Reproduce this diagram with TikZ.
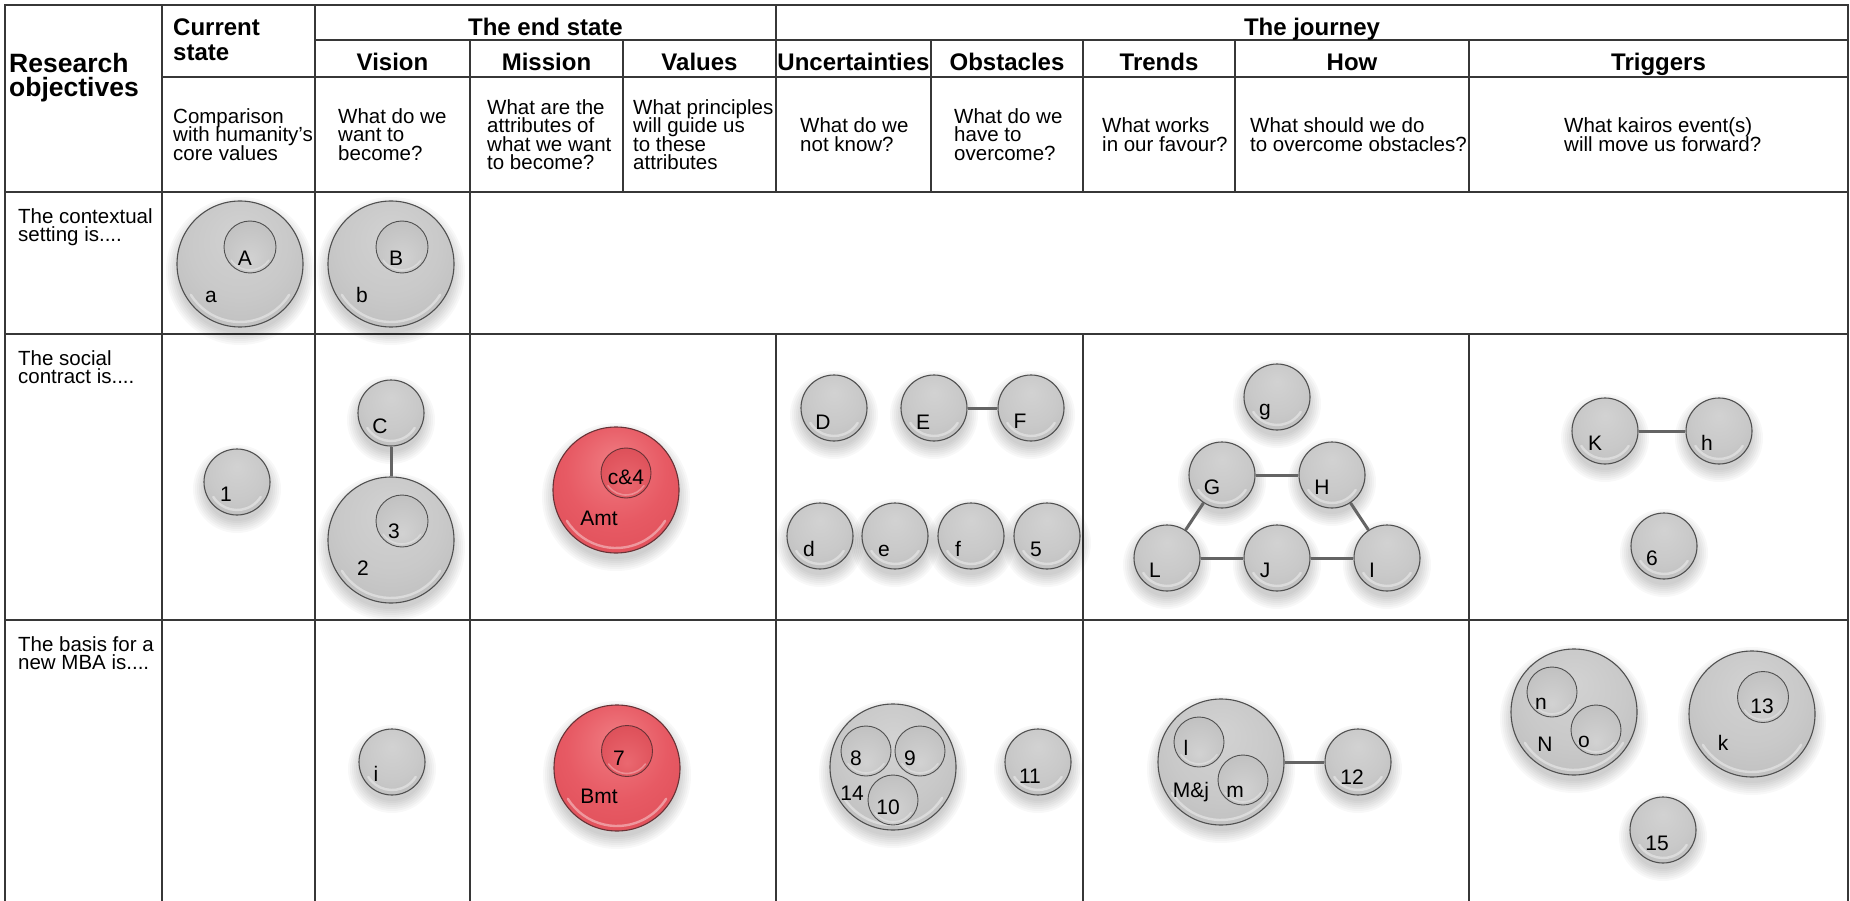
\documentclass[tikz,border=0pt]{standalone}
\usepackage{fontspec}
\setmainfont{Liberation Sans}
\usetikzlibrary{calc}

% palette
\definecolor{gridline}{RGB}{55,55,55}
\definecolor{linkline}{RGB}{100,100,100}
\definecolor{ballrim}{RGB}{80,80,80}
\definecolor{redrim}{RGB}{105,50,54}
\definecolor{gA}{RGB}{210,210,210}
\definecolor{gB}{RGB}{201,201,201}
\definecolor{gC}{RGB}{187,187,187}
\definecolor{gD}{RGB}{164,164,164}
\definecolor{iA}{RGB}{210,210,210}
\definecolor{iB}{RGB}{196,196,196}
\definecolor{iC}{RGB}{180,180,180}
\definecolor{rA}{RGB}{240,124,130}
\definecolor{rB}{RGB}{231,90,100}
\definecolor{rC}{RGB}{222,76,86}
\definecolor{rD}{RGB}{196,58,68}
\definecolor{riA}{RGB}{234,104,112}
\definecolor{riB}{RGB}{224,84,93}
\definecolor{riC}{RGB}{206,68,78}

% glossy fills for the discs
\pgfdeclareradialshading{glossgray}{\pgfpoint{0bp}{12bp}}{color(0bp)=(gA); color(20bp)=(gB); color(38bp)=(gC); color(50bp)=(gD)}
\pgfdeclareradialshading{glossred}{\pgfpoint{0bp}{12bp}}{color(0bp)=(rA); color(20bp)=(rB); color(38bp)=(rC); color(50bp)=(rD)}
\pgfdeclareradialshading{innergray}{\pgfpoint{0bp}{-12bp}}{color(0bp)=(iA); color(25bp)=(iB); color(50bp)=(iC)}
\pgfdeclareradialshading{innerred}{\pgfpoint{0bp}{-12bp}}{color(0bp)=(riA); color(25bp)=(riB); color(50bp)=(riC)}

% tight leading for stacked lines of text
\newcommand\tightlines{\lineskiplimit -100pt\relax}

\tikzset{
  tableline/.style={draw=gridline, line width=1.8pt, line cap=rect},
  ballbase/.style={circle, inner sep=0pt, line width=1.1pt},
  grayball/.style={ballbase, draw=ballrim, shading=glossgray},
  redball/.style={ballbase, draw=redrim, shading=glossred},
  grayinner/.style={ballbase, draw=ballrim, line width=0.9pt, shading=innergray},
  redinner/.style={ballbase, draw=redrim, line width=0.9pt, shading=innerred},
  link/.style={draw=linkline, line width=3pt},
  balltext/.style={font={\fontsize{21}{21}\selectfont}, inner sep=0pt, text height=15pt, text depth=0pt},
  headtext/.style={font={\bfseries\fontsize{24}{25}\selectfont\tightlines}, inner sep=0pt},
  asktext/.style={font={\fontsize{20.5}{18.5}\selectfont\tightlines}, inner sep=0pt, align=left, anchor=north west},
  rowtext/.style={font={\fontsize{20.5}{18.5}\selectfont\tightlines}, inner sep=0pt, align=left, anchor=north west},
}

% soft shadow under a disc: x, y, radius
\newcommand\castshadow[3]{%
  \foreach \k in {1,...,7}{\fill[black,opacity=0.026] (#1,#2+7) circle[radius={(#3+13-2*\k)*1pt}];}}
% a glossy disc with its shadow: [style]{name}{x}{y}{radius}
\newcommand\bubble[5][grayball]{%
  \castshadow{#3}{#4}{#5}
  \node[#1, minimum size={2*#5pt}] (#2) at (#3,#4) {};
  \draw[white, opacity=0.4, line width=2.4pt, line cap=round]
    (#2.center) ++(212:{(#5-5)*1pt}) arc[start angle=212, end angle=328, radius={(#5-5)*1pt}];}
% a disc nested in a larger one: [style]{name}{x}{y}{radius}
\newcommand\innerbubble[5][grayinner]{%
  \node[#1, minimum size={2*#5pt}] (#2) at (#3,#4) {};
  \draw[white, opacity=0.3, line width=1.6pt, line cap=round]
    (#2.center) ++(215:{(#5-3)*1pt}) arc[start angle=215, end angle=325, radius={(#5-3)*1pt}];}

\begin{document}
\begin{tikzpicture}[x=1pt, y=-1pt]
\fill[white] (0,0) rectangle (1850,901);
\useasboundingbox (0,0) rectangle (1850,901);

% ---- table rules ----
\draw[tableline] (5,5) -- (1848,5);
\draw[tableline] (315,40) -- (1848,40);
\draw[tableline] (162,77) -- (1848,77);
\draw[tableline] (5,192) -- (1848,192);
\draw[tableline] (5,334) -- (1848,334);
\draw[tableline] (5,620) -- (1848,620);
\draw[tableline] (5,5) -- (5,901);
\draw[tableline] (162,5) -- (162,901);
\draw[tableline] (315,5) -- (315,901);
\draw[tableline] (470,40) -- (470,901);
\draw[tableline] (623,40) -- (623,192);
\draw[tableline] (776,5) -- (776,192);
\draw[tableline] (776,334) -- (776,901);
\draw[tableline] (931,40) -- (931,192);
\draw[tableline] (1083,40) -- (1083,192);
\draw[tableline] (1083,334) -- (1083,901);
\draw[tableline] (1235,40) -- (1235,192);
\draw[tableline] (1469,40) -- (1469,192);
\draw[tableline] (1469,334) -- (1469,901);
\draw[tableline] (1848,5) -- (1848,901);

% ---- headings ----
\node[font={\bfseries\fontsize{26.5}{24.5}\selectfont\tightlines}, inner sep=0pt, align=left, anchor=north west] (hres) at (9,53) {Research\\objectives};
\node[headtext, align=left, anchor=north west] (hcur) at (173,18.5) {Current\\state};
\node[headtext, anchor=base] (hend) at (545.5,35.5) {The end state};
\node[headtext, anchor=base] (hjour) at (1312,35.5) {The journey};
\node[headtext, anchor=base] (hvis) at (392.5,70.5) {Vision};
\node[headtext, anchor=base] (hmis) at (546.5,70.5) {Mission};
\node[headtext, anchor=base] (hval) at (699.5,70.5) {Values};
\node[headtext, anchor=base] (hunc) at (853.5,70.5) {Uncertainties};
\node[headtext, anchor=base] (hobs) at (1007,70.5) {Obstacles};
\node[headtext, anchor=base] (htre) at (1159,70.5) {Trends};
\node[headtext, anchor=base] (how) at (1352,70.5) {How};
\node[headtext, anchor=base] (htri) at (1658.5,70.5) {Triggers};

% ---- guiding questions ----
\node[asktext] (qcur) at (173,108.4) {Comparison\\with humanity's\\core values};
\node[asktext] (qvis) at (338,108.4) {What do we\\want to\\become?};
\node[asktext] (qmis) at (487,99.1) {What are the\\attributes of\\what we want\\to become?};
\node[asktext] (qval) at (633,99.1) {What principles\\will guide us\\to these\\attributes};
\node[asktext] (qunc) at (800,117.6) {What do we\\not know?};
\node[asktext] (qobs) at (954,108.4) {What do we\\have to\\overcome?};
\node[asktext] (qtre) at (1102,117.6) {What works\\in our favour?};
\node[asktext] (qhow) at (1250,117.6) {What should we do\\to overcome obstacles?};
\node[asktext] (qtri) at (1564,117.6) {What kairos event(s)\\will move us forward?};

% ---- row titles ----
\node[rowtext] (rctx) at (18,208) {The contextual\\setting is....};
\node[rowtext] (rsoc) at (18,350) {The social\\contract is....};
\node[rowtext] (rmba) at (18,636) {The basis for a\\new MBA is....};

% ---- contextual setting ----
\bubble{ba}{240}{264}{63}
\innerbubble{bA}{250}{247}{26}
\node[balltext] (tA) at (245,258) {A};
\node[balltext] (ta) at (211,295) {a};
\bubble{bb}{391}{264}{63}
\innerbubble{bB}{402}{247}{26}
\node[balltext] (tB) at (396,258) {B};
\node[balltext] (tb) at (362,295) {b};

% ---- social contract ----
\bubble{b1}{237}{482}{33}
\node[balltext] (t1) at (226,494) {1};
\bubble{bC}{391}{413}{33}
\node[balltext] (tC) at (380,426) {C};
\bubble{b2}{391}{540}{63}
\innerbubble{b3}{402}{521}{26}
\node[balltext] (t3) at (394,531) {3};
\node[balltext] (t2) at (363,568) {2};
\bubble[redball]{bAmt}{616}{490}{63}
\innerbubble[redinner]{bc4}{626}{473}{25}
\node[balltext] (tc4) at (626,477) {c\&4};
\node[balltext] (tAmt) at (599,518) {Amt};
\bubble{bD}{834}{408}{33}
\node[balltext] (tD) at (823,422) {D};
\bubble{bE}{934}{408}{33}
\node[balltext] (tE) at (923,422) {E};
\bubble{bF}{1031}{408}{33}
\node[balltext] (tF) at (1020,421) {F};
\bubble{bd}{820}{536}{33}
\node[balltext] (td) at (809,549) {d};
\bubble{be}{895}{536}{33}
\node[balltext] (te) at (884,549) {e};
\bubble{bf}{971}{536}{33}
\node[balltext] (tf) at (958,549) {f};
\bubble{b5}{1047}{536}{33}
\node[balltext] (t5) at (1036,549) {5};
\bubble{bg}{1277}{397}{33}
\node[balltext] (tg) at (1265,408) {g};
\bubble{bG}{1222}{475}{33}
\node[balltext] (tG) at (1212,487) {G};
\bubble{bH}{1332}{475}{33}
\node[balltext] (tH) at (1322,487) {H};
\bubble{bL}{1167}{558}{33}
\node[balltext] (tL) at (1155,570) {L};
\bubble{bJ}{1277}{558}{33}
\node[balltext] (tJ) at (1265,570) {J};
\bubble{bI}{1387}{558}{33}
\node[balltext] (tI) at (1372,570) {I};
\bubble{bK}{1605}{431}{33}
\node[balltext] (tK) at (1595,443) {K};
\bubble{bh}{1719}{431}{33}
\node[balltext] (th) at (1707,443) {h};
\bubble{b6}{1664}{546}{33}
\node[balltext] (t6) at (1652,558) {6};

% ---- basis for a new MBA ----
\bubble{bi}{392}{762}{33}
\node[balltext] (ti) at (376,774) {i};
\bubble[redball]{bBmt}{617}{768}{63}
\innerbubble[redinner]{b7}{627}{751}{25.5}
\node[balltext] (t7) at (619,758) {7};
\node[balltext] (tBmt) at (599,796) {Bmt};
\bubble{b14}{893}{767}{63}
\innerbubble{b8}{866}{751}{25}
\innerbubble{b9}{920}{751}{25}
\innerbubble{b10}{893}{800}{25}
\node[balltext] (t8) at (856,758) {8};
\node[balltext] (t9) at (910,758) {9};
\node[balltext] (t10) at (888,807) {10};
\node[balltext] (t14) at (852,793) {14};
\bubble{b11}{1038}{762}{33}
\node[balltext] (t11) at (1030,776) {11};
\bubble{bMj}{1221}{762}{63}
\innerbubble{bl}{1199}{742}{25}
\innerbubble{bm}{1243}{780}{25}
\node[balltext] (tl) at (1186,748) {l};
\node[balltext] (tm) at (1235,790) {m};
\node[balltext] (tMj) at (1191,790) {M\&j};
\bubble{b12}{1358}{762}{33}
\node[balltext] (t12) at (1352,777) {12};
\bubble{bN}{1574}{712}{63}
\innerbubble{bn}{1552}{692}{25}
\innerbubble{bo}{1596}{730}{25}
\node[balltext] (tn) at (1541,702) {n};
\node[balltext] (to) at (1584,740) {o};
\node[balltext] (tN) at (1545,744) {N};
\bubble{bk}{1752}{714}{63}
\innerbubble{b13}{1763}{697}{25.5}
\node[balltext] (t13) at (1762,706) {13};
\node[balltext] (tk) at (1723,743) {k};
\bubble{b15}{1663}{830}{33}
\node[balltext] (t15) at (1657,843) {15};

% ---- links ----
\draw[link] (bC) -- (b2);
\draw[link] (bE) -- (bF);
\draw[link] (bG) -- (bH);
\draw[link] (bL) -- (bJ);
\draw[link] (bJ) -- (bI);
\draw[link] (bG) -- (bL);
\draw[link] (bH) -- (bI);
\draw[link] (bK) -- (bh);
\draw[link] (bMj) -- (b12);
\end{tikzpicture}
\end{document}
